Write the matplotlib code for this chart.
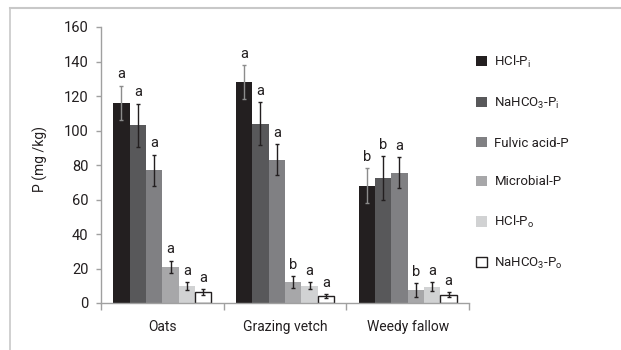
import matplotlib
matplotlib.use("Agg")
import matplotlib.pyplot as plt
import numpy as np
from matplotlib.patches import Patch
from matplotlib.lines import Line2D

plt.rcParams['font.family'] = ['Roboto', 'DejaVu Sans']
plt.rcParams['mathtext.fontset'] = 'custom'
plt.rcParams['mathtext.rm'] = 'Roboto'
plt.rcParams['mathtext.it'] = 'Roboto'

categories = ['Oats', 'Grazing vetch', 'Weedy fallow']
series = [r'HCl-P$_{\mathrm{i}}$', r'NaHCO$_{\mathrm{3}}$-P$_{\mathrm{i}}$', 'Fulvic acid-P',
          'Microbial-P', r'HCl-P$_{\mathrm{o}}$', r'NaHCO$_{\mathrm{3}}$-P$_{\mathrm{o}}$']
values = [
    [116, 128, 68],     # HCl-Pi
    [103, 104, 72.5],   # NaHCO3-Pi
    [77, 83, 75.5],     # Fulvic acid-P
    [21, 12, 7.5],      # Microbial-P
    [10, 10, 9.5],      # HCl-Po
    [6.5, 4, 4.8],      # NaHCO3-Po
]
errors = [
    [10, 10, 10],
    [12.5, 12.5, 12.5],
    [9, 9, 9],
    [3.5, 3.5, 4],
    [2.2, 2, 2.5],
    [1.6, 1.3, 1.5],
]
letters = [
    ['a', 'a', 'b'],
    ['a', 'a', 'b'],
    ['a', 'a', 'a'],
    ['a', 'b', 'b'],
    ['a', 'a', 'a'],
    ['a', 'a', 'a'],
]
colors = ['#231f20', '#58585a', '#808083', '#a7a7a9', '#d1d2d3', '#ffffff']
edgecolors = ['#231f20', '#58585a', '#808083', '#a7a7a9', '#d1d2d3', '#231f20']
errcolors = ['#8c8c8c', '#231f20', '#231f20', '#231f20', '#231f20', '#231f20']

fig = plt.figure(figsize=(6.21, 3.5), dpi=100)
ax = fig.add_axes([101/621, 1-303/350, (469-101)/621, (303-27)/350])

n = len(series)
w = 0.8 / n
x = np.arange(len(categories))
for i in range(n):
    pos = x - 0.4 + w*(i+0.5)
    ax.bar(pos, values[i], width=w, color=colors[i], edgecolor=edgecolors[i],
           linewidth=1.0 if i == 5 else 0, zorder=2)
    ax.errorbar(pos, values[i], yerr=errors[i], fmt='none', ecolor=errcolors[i],
                elinewidth=1.0, capsize=1.5, capthick=1.0, zorder=3)
    for j in range(len(categories)):
        ax.text(pos[j], values[i][j] + errors[i][j] + 2.5, letters[i][j],
                ha='center', va='bottom', fontsize=10.5, color='#231f20')

ax.set_xlim(-0.5, 2.5)
ax.set_ylim(0, 160)
ax.set_yticks(np.arange(0, 161, 20))
ax.set_xticks(x)
ax.set_xticklabels(categories)
ax.set_xticks([-0.5, 0.5, 1.5, 2.5], minor=True)
ax.tick_params(axis='x', which='major', length=0, pad=12, labelsize=10, labelcolor='#231f20')
ax.tick_params(axis='x', which='minor', length=5, width=1, color='#a0a0a0', direction='out')
ax.tick_params(axis='y', length=3.5, width=1, color='#a0a0a0', direction='out',
               labelsize=10.5, labelcolor='#231f20', pad=5.5)
for s in ['top', 'right']:
    ax.spines[s].set_visible(False)
for s in ['left', 'bottom']:
    ax.spines[s].set_color('#a0a0a0')
    ax.spines[s].set_linewidth(1)
ax.set_ylabel('P (mg /kg)', fontsize=10, color='#231f20')
ax.yaxis.set_label_coords(-(101-48)/368, (303-159)/276)

handles = [Patch(facecolor=colors[i], edgecolor=edgecolors[i],
                 linewidth=1.0 if i == 5 else 0) for i in range(n)]
fig.legend(handles, series, loc='upper left', bbox_to_anchor=(476/621, 1-54/350),
           frameon=False, fontsize=9.5, labelspacing=1.95, handlelength=0.8,
           handleheight=0.8, handletextpad=0.6, borderpad=0, borderaxespad=0,
           labelcolor='#231f20')

fig.add_artist(Line2D([10/621, 1], [1-8/350, 1-8/350], color='#c8c8c8', linewidth=1.5))
fig.add_artist(Line2D([10/621, 10/621], [0, 1-8/350], color='#c8c8c8', linewidth=1.2))

fig.savefig('out.png', dpi=100)
